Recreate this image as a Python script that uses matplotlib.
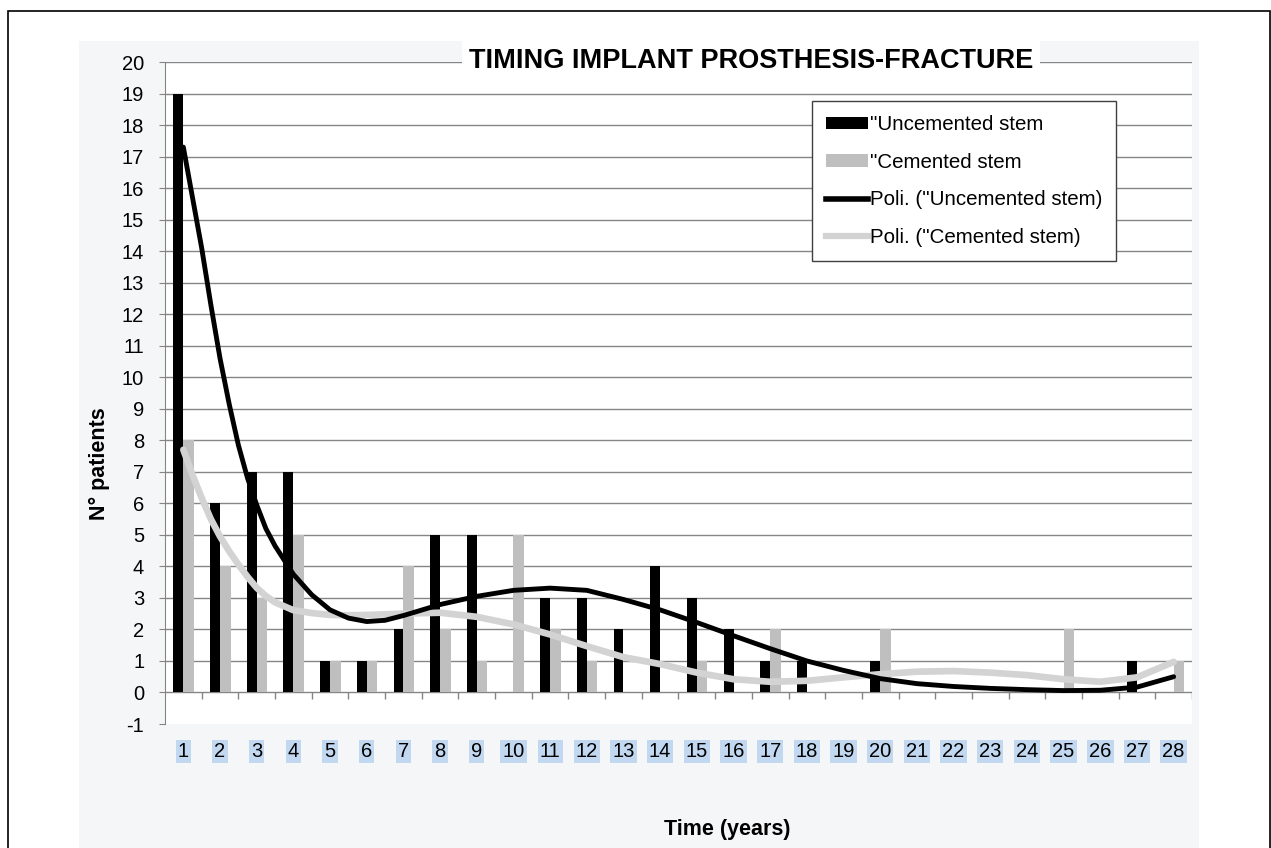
import numpy as np
import matplotlib.pyplot as plt
from matplotlib.patches import Rectangle, Patch
from matplotlib.lines import Line2D

plt.rcParams['font.family'] = ['Liberation Sans', 'DejaVu Sans']
plt.rcParams['axes.unicode_minus'] = False

# data
years = list(range(1, 29))
uncemented = [19, 6, 7, 7, 1, 1, 2, 5, 5, 0, 3, 3, 2, 4, 3, 2, 1, 1, 0, 1, 0, 0, 0, 0, 0, 0, 1, 0]
cemented = [8, 4, 3, 5, 1, 1, 4, 2, 1, 5, 2, 1, 0, 0, 1, 0, 2, 0, 0, 2, 0, 0, 0, 0, 2, 0, 0, 1]

# polynomial trend lines
trend_x = [1, 1.25, 1.5, 1.75, 2, 2.25, 2.5, 2.75, 3, 3.25, 3.5, 4, 4.5, 5, 5.5, 6, 6.5, 7,
           8, 9, 10, 11, 12, 13, 14, 15, 16, 17, 18, 19, 20, 21, 22, 23, 24, 25, 26, 27, 28]
trend_unc = [17.3, 15.7, 14.1, 12.3, 10.6, 9.15, 7.85, 6.8, 5.95, 5.2, 4.65, 3.75, 3.1, 2.62,
             2.36, 2.25, 2.29, 2.44, 2.79, 3.05, 3.24, 3.31, 3.24, 2.95, 2.62, 2.22, 1.8, 1.39,
             1.0, 0.7, 0.44, 0.28, 0.19, 0.13, 0.09, 0.06, 0.07, 0.17, 0.5]
trend_cem = [7.7, 6.9, 6.17, 5.5, 4.95, 4.48, 4.06, 3.67, 3.32, 3.06, 2.86, 2.61, 2.52, 2.46,
             2.45, 2.46, 2.48, 2.5, 2.53, 2.4, 2.16, 1.84, 1.47, 1.12, 0.9, 0.63, 0.42, 0.34,
             0.37, 0.48, 0.58, 0.66, 0.68, 0.63, 0.55, 0.42, 0.34, 0.48, 0.97]

W, H = 1271, 848
fig = plt.figure(figsize=(W / 100, H / 100), dpi=100)
fig.patch.set_facecolor('white')

# outer frame and gray chart area
fig.patches.append(Rectangle((8 / W, -0.01), (1270 - 8) / W, 1 - 11 / H + 0.01,
                             transform=fig.transFigure, facecolor='none',
                             edgecolor='black', lw=1.2, zorder=-2))
fig.patches.append(Rectangle((79 / W, 0), (1199 - 79) / W, 1 - 41 / H,
                             transform=fig.transFigure, facecolor='#f5f6f8',
                             edgecolor='none', zorder=-2))

ax = fig.add_axes([165 / W, 1 - 724 / H, (1192 - 165) / W, (724 - 62) / H])
ax.set_facecolor('white')

x = np.array(years)
w = 0.27
ax.bar(x - w, uncemented, width=w, align='edge', color='black', zorder=3)
ax.bar(x, cemented, width=w + 0.02, align='edge', color='#bfbfbf', zorder=3)
ax.plot(trend_x, trend_cem, color='#d3d3d3', lw=4.8, solid_capstyle='round',
        solid_joinstyle='round', zorder=4)
ax.plot(trend_x, trend_unc, color='black', lw=3.5, solid_capstyle='round',
        solid_joinstyle='round', zorder=5)

ax.set_xlim(0.5, 28.5)
ax.set_ylim(-1, 20)
ax.set_yticks(range(-1, 21))
for v in range(1, 21):
    ax.axhline(v, color='#858585', lw=1.0, zorder=1)
ax.axhline(0, color='#858585', lw=1.0, zorder=2)
ax.vlines(np.arange(1.5, 29, 1), -0.2, 0, color='#858585', lw=1.0, zorder=2)

for s in ['top', 'right', 'bottom']:
    ax.spines[s].set_visible(False)
ax.spines['left'].set_color('#858585')
ax.tick_params(axis='y', length=4.5, color='#858585', labelsize=14.5, pad=10.5)
ax.set_xticks(x)
ax.set_xticklabels([str(v) for v in years], fontsize=14.5)
ax.tick_params(axis='x', length=0, pad=13)
for lab in ax.get_xticklabels():
    lab.set_bbox(dict(facecolor='#c2d8f0', edgecolor='none', pad=1.5))

handles = [Patch(facecolor='black'), Patch(facecolor='#bfbfbf'),
           Line2D([], [], color='black', lw=4),
           Line2D([], [], color='#d3d3d3', lw=4.5)]
labels = ['"Uncemented stem', '"Cemented stem', 'Poli. ("Uncemented stem)', 'Poli. ("Cemented stem)']
leg = ax.legend(handles, labels, loc='upper left', bbox_to_anchor=(0.630, 0.941),
                borderaxespad=0, fontsize=14.8, frameon=True, fancybox=False,
                framealpha=1, edgecolor='#404040', labelspacing=0.9,
                handlelength=2.0, handleheight=0.55, handletextpad=0.1, borderpad=0.7)
leg.get_frame().set_linewidth(1.0)
leg.set_zorder(10)

fig.text(751 / W, 1 - 61 / H, 'TIMING IMPLANT PROSTHESIS-FRACTURE', ha='center', va='center',
         fontsize=19.5, fontweight='bold',
         bbox=dict(facecolor='white', edgecolor='none', pad=5))
fig.text(99 / W, 1 - 464 / H, 'N° patients', rotation=90, ha='center', va='center',
         fontsize=15.5, fontweight='bold')
fig.text(727 / W, 1 - 830 / H, 'Time (years)', ha='center', va='center',
         fontsize=15.5, fontweight='bold')

plt.savefig('out.png', dpi=100)
